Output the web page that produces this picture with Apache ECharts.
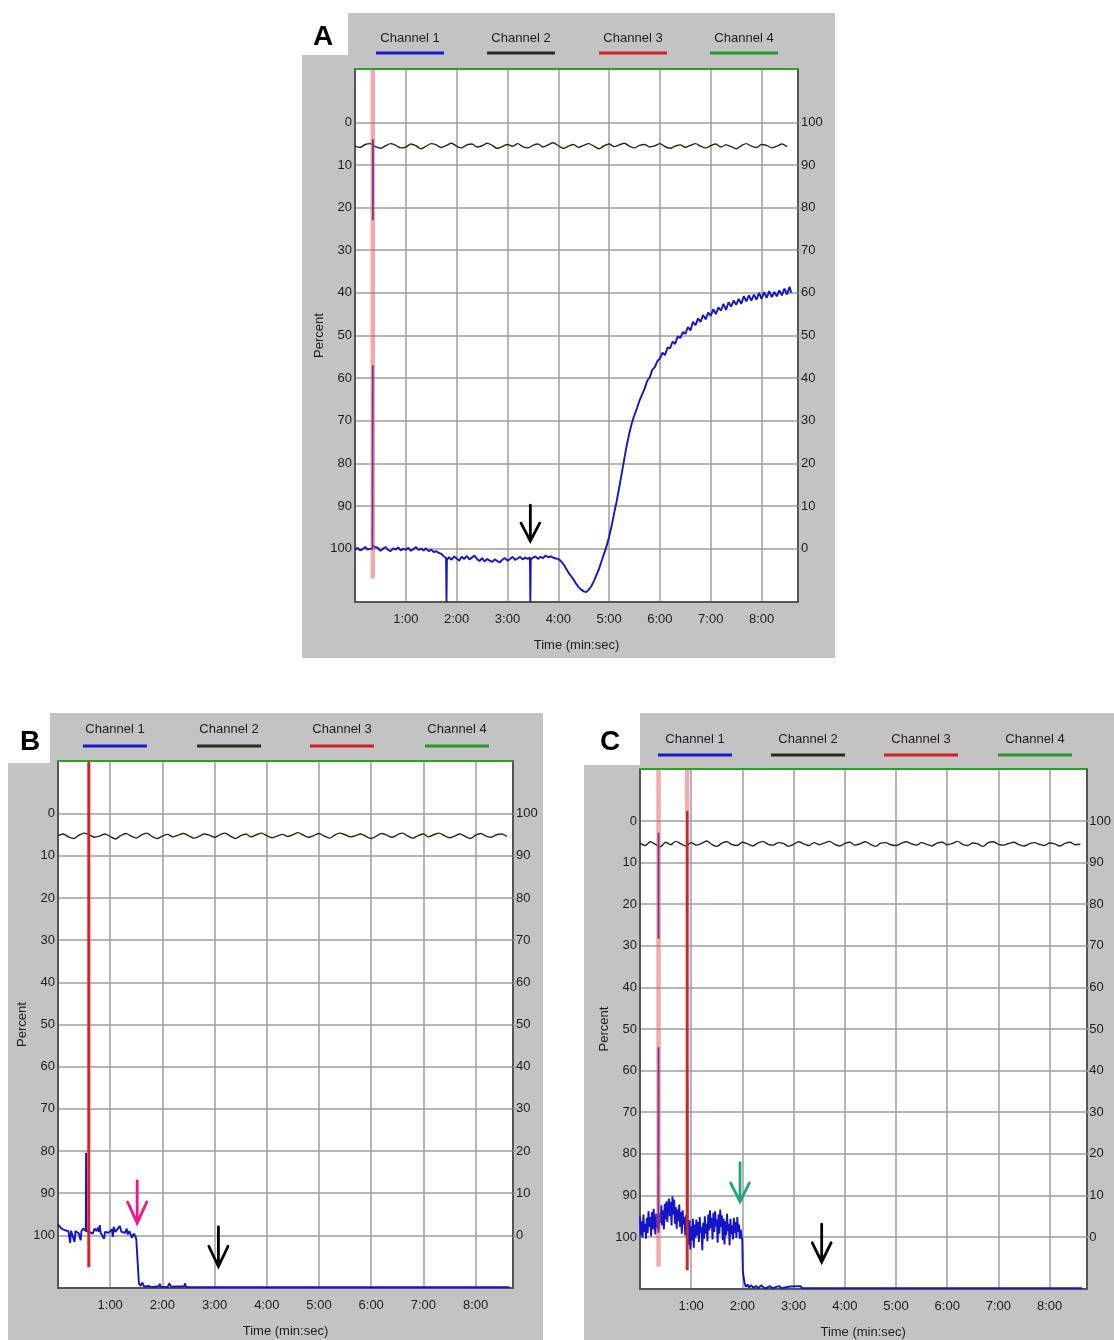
<!DOCTYPE html>
<html><head><meta charset="utf-8">
<script src="https://cdn.jsdelivr.net/npm/echarts@6/dist/echarts.min.js"></script>
<style>
html,body{margin:0;padding:0;background:#fff;}
#wrap{position:relative;width:1114px;height:1340px;overflow:hidden;}
.frame{position:absolute;background:#c3c3c3;}
.corner{position:absolute;background:#fff;}
#chart{position:absolute;left:0;top:0;width:1114px;height:1340px;}
</style></head><body>
<div id="wrap">
<div class="frame" style="left:302px;top:13px;width:533px;height:645px"></div>
<div class="corner" style="left:302px;top:13px;width:46px;height:42px"></div>
<div class="frame" style="left:8px;top:713px;width:535px;height:627px"></div>
<div class="corner" style="left:8px;top:713px;width:42px;height:50px"></div>
<div class="frame" style="left:584px;top:713px;width:530px;height:627px"></div>
<div class="corner" style="left:584px;top:713px;width:56px;height:52px"></div>
<div id="chart"></div>
</div>
<script>
// ---------- data ----------
const channelNames = ['Channel 1','Channel 2','Channel 3','Channel 4'];
const timeTicks = [60,120,180,240,300,360,420,480];          // seconds (1:00 ... 8:00)
const pctTicks = [0,10,20,30,40,50,60,70,80,90,100];
const axisName = {y:'Percent', x:'Time (min:sec)'};
const xMax = 523;               // seconds shown on the time axis
const yTop = -12.5, yBottom = 112.5;
const blackStep = 6;            // sampling interval (s) of the channel 2 traces

// Panel A
const aBlue = [[0,100.3],[3,99.8],[6,100.4],[9,100.1],[12,99.6],[15,100.2],[18,100.0],[20.6,100.1],[21,57],[21.1,null],[21.1,23],[21.1,4],[21.2,null],[21.4,99.4],[24,99.6],[27,99.8],[30,100.5],[33,100.0],[36,99.6],[39,100.3],[42,100.6],[45,99.9],[48,100.2],[51,99.7],[54,100.4],[57,100.0],[60,100.3],[63,99.8],[66,100.5],[69,100.1],[72,99.6],[75,100.3],[78,100.0],[81,100.4],[84,99.9],[87,100.6],[90,100.2],[93,100.8],[96,100.6],[99,101.0],[102,101.2],[105,101.8],[107.5,102.2],[108,112.5],[108.5,102.6],[111,102.0],[114,102.6],[117,101.8],[120,102.3],[123,102.8],[126,101.9],[129,102.4],[132,101.7],[135,102.5],[138,102.1],[141,101.6],[144,102.4],[147,102.9],[150,102.2],[153,103.0],[156,102.4],[159,102.8],[162,103.1],[165,102.5],[168,102.9],[171,103.2],[174,102.6],[177,102.2],[180,102.8],[183,102.4],[186,101.9],[189,102.6],[192,102.3],[195,101.9],[198,102.5],[201,102.1],[204,102.4],[206.5,102.0],[207,112.5],[207.5,102.6],[210,102.1],[213,101.8],[216,102.4],[219,101.9],[222,102.2],[225,101.6],[228,102.0],[231,101.8],[234,102.1],[237,102.3],[240,102.4],[243,102.9],[246,103.6],[249,104.6],[252,105.6],[255,106.4],[258,107.2],[261,108.2],[264,109.0],[267,109.6],[270,110.0],[273,110.2],[276,109.6],[279,108.8],[282,107.6],[285,106.2],[288,104.8],[291,103.0],[294,101.2],[297,99.4],[300,97.2],[303,94.6],[306,91.6],[309,88.8],[312,85.6],[315,82.2],[318,78.8],[321,75.6],[324,72.8],[327,70.4],[330,68.6],[333,67.0],[336,65.2],[339,63.8],[342,62.4],[345,60.6],[348,59.8],[351,58.0],[354,57.4],[357,56.0],[360,55.4],[363,54.0],[366,54.6],[369,52.8],[372,53.0],[375,51.4],[378,52.0],[381,50.2],[384,50.6],[387,49.2],[390,49.6],[393,48.0],[396,48.8],[399,46.8],[402,47.6],[405,46.0],[408,46.8],[411,45.2],[414,46.2],[417,44.6],[420,45.4],[423,43.8],[426,45.0],[429,43.4],[432,44.2],[435,42.6],[438,44.0],[441,42.2],[444,43.2],[447,41.8],[450,42.8],[453,41.4],[456,42.6],[459,40.8],[462,42.0],[465,40.6],[468,41.8],[471,40.4],[474,41.6],[477,40.0],[480,41.4],[483,39.8],[486,41.2],[489,39.6],[492,41.0],[495,39.8],[498,40.8],[501,39.4],[504,40.6],[507,39.0],[510,40.4],[513,38.6],[515,40.0]];
const aBlack = [5.6,5.9,5.2,5.0,5.7,6.1,5.5,5.0,5.4,6.0, 5.8,5.1,5.5,6.2,5.6,5.0,5.3,5.9,5.4,4.9, 5.6,6.0,5.3,5.1,5.8,5.5,4.9,5.4,6.1,5.7, 5.2,5.6,5.0,5.7,6.0,5.4,5.1,5.8,5.3,4.8, 5.5,6.1,5.6,5.2,5.9,5.4,5.0,5.6,6.2,5.5, 5.1,5.7,5.3,4.9,5.6,6.0,5.4,5.2,5.8,5.5, 5.0,5.7,6.1,5.6,5.3,5.9,5.4,5.0,5.6,6.0, 5.5,5.1,5.8,5.3,5.7,6.2,5.5,5.0,5.6,5.9, 5.2,5.4,6.0,5.6,5.1,5.7];
const aRedLight = [[21,yTop],[21,107]];
const aRedSolid = [];
const aArrows = [[207,89.8,98.2,94.0,'#000000']];   // [time, tail, tip, head, colour]

// Panel B
const bBlue = [[0,97.4],[2,97.8],[4,98.4],[6,98.6],[8,98.8],[10,98.6],[12,99.0],[14,101.8],[15,98.9],[17,99.2],[19,101.6],[20,99.0],[22,98.6],[24,99.6],[26,101.2],[27,99.0],[29,98.4],[31,98.8],[32,99.0],[32.3,80.4],[32.6,99.0],[34,98.6],[36,99.2],[38,98.8],[40,99.6],[42,98.4],[44,99.0],[46,98.2],[47,99.2],[48,97.6],[49,99.4],[51,99.0],[53,100.8],[54,99.2],[56,98.8],[58,99.4],[60,99.0],[62,98.6],[63,100.4],[64,98.0],[66,99.2],[68,98.6],[70,99.0],[71,97.8],[73,99.2],[75,98.8],[77,99.4],[79,98.4],[80,99.8],[82,99.0],[84,99.4],[85,100.6],[87,99.6],[89,100.2],[90,101.0],[91,100.6],[92,100.8],[93,111.4],[95,112.0],[97,111.2],[99,112.2],[101,112.3],[104,112.0],[107,112.3],[116,112.1],[117,111.5],[118,112.2],[126,112.3],[128,111.4],[130,112.2],[145,112.1],[146,111.4],[147,112.2],[150,112.3],[519,112.3]];
const bBlack = [5.2,4.8,5.5,5.9,5.1,4.6,5.0,5.6,5.3,4.8, 5.4,6.0,5.2,4.7,5.3,5.8,5.0,4.6,5.4,5.9, 5.3,4.9,5.5,5.1,4.7,5.2,5.8,5.4,4.8,5.1, 5.6,5.0,4.6,5.3,5.9,5.2,4.8,5.5,5.0,4.6, 5.2,5.7,5.3,4.9,5.4,5.0,4.5,5.1,5.6,5.2, 4.7,5.3,5.8,5.1,4.6,5.0,5.5,5.2,4.8,5.4, 5.9,5.3,4.7,5.1,5.6,5.0,4.6,5.3,5.8,5.2, 4.8,5.5,5.0,4.6,5.2,5.7,5.3,4.8,5.4,5.9, 5.1,4.7,5.3,5.6,5.0,4.8,5.4];
const bRedLight = [];
const bRedSolid = [[35.4,yTop],[35.4,107.6]];
const bArrows = [[91,87.1,97.1,92.1,'#f0148c'],[184.4,98.0,107.4,102.6,'#000000']];

// Panel C
const cBlue = [[0,95.0],[1,99.6],[2,96.2],[3,100.2],[4,94.6],[5,98.8],[6,96.8],[7,100.4],[8,95.4],[9,99.0],[10,93.8],[11,97.6],[12,95.2],[13,99.8],[14,94.0],[15,98.2],[16,93.2],[17,96.6],[18,99.4],[19,94.4],[20,97.8],[21,95.6],[21.5,99.0],[21.7,54.4],[21.7,null],[21.7,28.3],[21.7,2.8],[21.8,null],[22,98.4],[23,94.2],[24,96.6],[25,92.4],[26,97.2],[27,93.6],[28,98.2],[29,92.0],[30,95.8],[31,91.4],[32,96.4],[33,92.6],[34,90.8],[35,95.0],[36,91.6],[37,97.2],[38,90.2],[39,94.6],[40,91.0],[41,96.8],[42,92.8],[43,98.0],[44,93.4],[45,96.2],[46,92.2],[47,97.6],[48,94.0],[49,99.2],[50,93.6],[51,97.0],[52,95.2],[53,99.6],[54,94.8],[55,98.6],[55.3,63.5],[55.6,99.0],[56,96.4],[57,101.8],[58,96.0],[59,103.0],[60,97.4],[61,100.8],[62,95.6],[63,102.6],[64,97.0],[65,100.2],[66,95.8],[67,99.6],[68,96.4],[69,101.2],[70,95.2],[71,99.0],[72,97.6],[73,103.2],[74,96.6],[75,100.4],[76,95.0],[77,99.2],[78,96.8],[79,101.0],[80,94.6],[81,98.4],[82,93.6],[83,97.8],[84,95.4],[85,100.6],[86,94.2],[87,98.8],[88,93.8],[89,97.4],[90,95.8],[91,101.4],[92,94.6],[93,99.2],[94,93.4],[95,97.6],[96,94.8],[97,100.8],[98,95.6],[99,101.8],[100,96.2],[101,99.6],[102,94.4],[103,98.6],[104,96.8],[105,102.0],[106,95.6],[107,99.4],[108,97.2],[109,100.6],[110,95.4],[111,99.0],[112,96.4],[113,100.2],[114,95.2],[115,98.8],[116,97.0],[117,100.4],[118,98.2],[119,100.0],[119.8,100.6],[120.5,108.0],[121.5,109.8],[122.5,111.0],[124,112.0],[126,111.4],[128,112.2],[130,111.6],[133,112.2],[136,111.8],[139,112.3],[142,111.6],[145,112.2],[148,112.3],[152,111.8],[155,112.3],[163,111.8],[166,112.3],[176,111.9],[178,112.3],[188,111.8],[190,112.3],[518,112.3]];
const cBlack = [5.3,5.9,5.0,5.6,6.2,5.1,5.7,4.9,5.5,6.0, 5.2,5.8,5.4,4.8,5.6,6.1,5.3,5.0,5.7,5.9, 5.1,5.5,6.0,5.3,4.9,5.6,5.8,5.2,5.4,6.1, 5.6,5.0,5.5,5.9,5.2,5.7,5.3,4.9,5.6,6.0, 5.4,5.1,5.8,5.5,5.0,5.6,6.1,5.3,5.2,5.7, 5.9,5.4,5.0,5.5,5.8,5.2,5.6,6.0,5.3,5.1, 5.7,5.4,4.9,5.6,5.9,5.3,5.5,6.1,5.2,5.0, 5.6,5.8,5.4,5.1,5.7,6.0,5.5,5.2,5.6,5.9, 5.3,5.5,6.0,5.4,5.1,5.7,5.6];
const cRedLight = [[21.7,yTop],[21.7,107.1],[21.8,null],[55.3,yTop],[55.3,-2.4]];
const cRedSolid = [[55.3,-2.4],[55.3,108]];
const cArrows = [[117.2,82.1,91.5,87.0,'#1fa57c'],[212.9,96.9,106.0,101.4,'#000000']];

// ---------- layout / style ----------
const FONT = '"Liberation Sans", Arial, sans-serif';
const colors = {blue:'#1414c8', black:'#26261a', red:'#d42424', redLight:'rgba(230,85,85,0.5)', green:'#2e9e2e', grid:'#9e9e9e', frame:'#555555', text:'#1e1e1e'};
const legendColors = ['#1a1ad0','#2c2c1c','#cc2222','#22992a'];

const panels = [
  {letter:'A', letterPos:[323,37], grid:{left:355,top:69,width:443,height:533},
   legendY:[38,53], legendX:[410,521,633,744], legendHalf:34,
   blue:aBlue, black:aBlack, redLight:aRedLight, redSolid:aRedSolid, arrows:aArrows},
  {letter:'B', letterPos:[30,742], grid:{left:58,top:761,width:455,height:527},
   legendY:[729,746], legendX:[115,229,342,457], legendHalf:32,
   blue:bBlue, black:bBlack, redLight:bRedLight, redSolid:bRedSolid, arrows:bArrows},
  {letter:'C', letterPos:[610,742], grid:{left:640,top:769,width:448,height:522},
   legendY:[739,755], legendX:[695,808,921,1035], legendHalf:37,
   blue:cBlue, black:cBlack, redLight:cRedLight, redSolid:cRedSolid, arrows:cArrows}
];

function fmtTime(v){ const m=Math.floor(v/60), s=Math.round(v%60); return m+':'+(s<10?'0':'')+s; }

const option = {animation:false, backgroundColor:'transparent', grid:[], xAxis:[], yAxis:[], series:[], graphic:[]};

panels.forEach((p, i) => {
  option.grid.push(Object.assign({show:true, backgroundColor:'#ffffff', borderWidth:0}, p.grid));
  option.xAxis.push({
    type:'value', gridIndex:i, min:0, max:xMax,
    name:axisName.x, nameLocation:'middle', nameGap:37,
    nameTextStyle:{fontFamily:FONT, fontSize:13, color:colors.text},
    axisLine:{show:true, onZero:false, lineStyle:{color:colors.frame, width:2}},
    axisTick:{show:false, customValues:timeTicks},
    axisLabel:{customValues:timeTicks, formatter:fmtTime, margin:11, fontFamily:FONT, fontSize:13, color:colors.text},
    splitLine:{show:true, lineStyle:{color:colors.grid, width:1.5}}
  });
  option.yAxis.push({
    type:'value', gridIndex:i, inverse:true, min:yTop, max:yBottom, position:'left',
    name:axisName.y, nameLocation:'middle', nameGap:29, nameRotate:90,
    nameTextStyle:{fontFamily:FONT, fontSize:13, color:colors.text},
    axisLine:{show:true, onZero:false, lineStyle:{color:colors.frame, width:2}},
    axisTick:{show:false, customValues:pctTicks},
    axisLabel:{customValues:pctTicks, margin:3, fontFamily:FONT, fontSize:13, color:colors.text},
    splitLine:{show:true, lineStyle:{color:colors.grid, width:1.5}}
  });
  option.yAxis.push({
    type:'value', gridIndex:i, min:100-yBottom, max:100-yTop, position:'right',
    axisLine:{show:true, onZero:false, lineStyle:{color:colors.frame, width:2}},
    axisTick:{show:true, length:3, customValues:pctTicks, lineStyle:{color:colors.grid, width:1.5}},
    axisLabel:{customValues:pctTicks, margin:3, fontFamily:FONT, fontSize:13, color:colors.text},
    splitLine:{show:false}
  });
  const yi = i*2;
  const base = {type:'line', xAxisIndex:i, yAxisIndex:yi, showSymbol:false, symbol:'none', connectNulls:false, silent:true};
  option.series.push(Object.assign({}, base, {name:channelNames[1], data:p.black.map((v,k)=>[k*blackStep, v]), smooth:0.3, lineStyle:{color:colors.black, width:1.4}}));
  option.series.push(Object.assign({}, base, {name:channelNames[0], data:p.blue, lineStyle:{color:colors.blue, width:1.9}}));
  if (p.redLight.length) option.series.push(Object.assign({}, base, {name:channelNames[2], data:p.redLight, lineStyle:{color:colors.redLight, width:4.5}, clip:true}));
  if (p.redSolid.length) option.series.push(Object.assign({}, base, {name:channelNames[2], data:p.redSolid, lineStyle:{color:colors.red, width:3}}));
  option.series.push(Object.assign({}, base, {name:channelNames[3], data:[[0,yTop],[xMax,yTop]], clip:false, lineStyle:{color:colors.green, width:2}}));
  // annotation arrows
  const dx = 11;  // half-width of arrow head, seconds
  p.arrows.forEach(a => {
    const [t, tail, tip, head, col] = a;
    option.series.push(Object.assign({}, base, {data:[[t,tail],[t,tip],[t,null],[t-dx,head],[t,tip],[t+dx,head]], lineStyle:{color:col, width:2.8, cap:'round', join:'miter'}, z:5}));
  });
  // panel letter
  option.graphic.push({type:'text', x:p.letterPos[0], y:p.letterPos[1], style:{text:p.letter, font:'bold 28px '+FONT, fill:'#000', align:'center', verticalAlign:'middle'}});
  // legend
  channelNames.forEach((n, k) => {
    const cx = p.legendX[k];
    option.graphic.push({type:'text', x:cx, y:p.legendY[0], style:{text:n, font:'13px '+FONT, fill:colors.text, align:'center', verticalAlign:'middle'}});
    option.graphic.push({type:'line', shape:{x1:cx-p.legendHalf, y1:p.legendY[1], x2:cx+p.legendHalf, y2:p.legendY[1]}, style:{stroke:legendColors[k], lineWidth:3}});
  });
});

const chart = echarts.init(document.getElementById('chart'), null, {renderer:'canvas'});
chart.setOption(option);
</script>
</body></html>
